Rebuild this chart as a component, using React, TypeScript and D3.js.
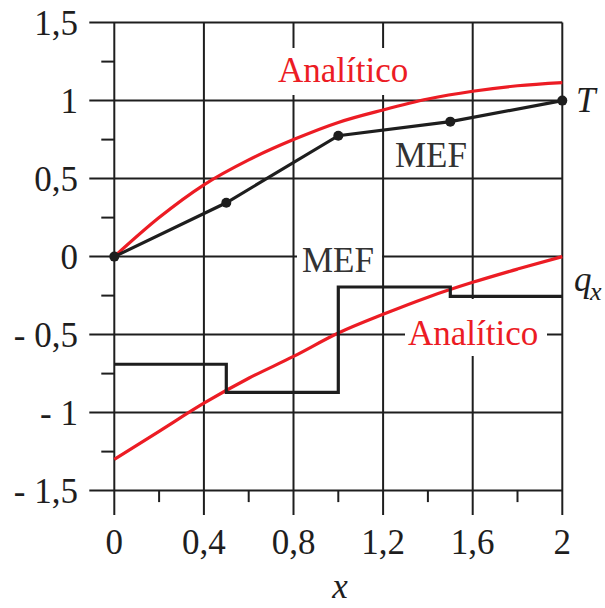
import React from "react";
import * as d3 from "d3";

// grid / ticks
const xMajor = [0, 0.4, 0.8, 1.2, 1.6, 2];
const xTickLabels = ["0", "0,4", "0,8", "1,2", "1,6", "2"];
const xMinor = [0.2, 0.6, 1.0, 1.4, 1.8];
const yMajor = [1.5, 1, 0.5, 0, -0.5, -1, -1.5];
const yTickLabels = ["1,5", "1", "0,5", "0", "- 0,5", "- 1", "- 1,5"];
const yMinor = [1.25, 0.75, 0.25, -0.25, -0.75, -1.25];

// analytic solution
const xAnalytic = [0, 0.2, 0.4, 0.6, 0.8, 1.0, 1.2, 1.4, 1.6, 1.8, 2.0];
const tAnalytic = [0, 0.25, 0.46, 0.62, 0.75, 0.86, 0.94, 1.01, 1.06, 1.095, 1.115];
const qAnalytic = [-1.3, -1.12, -0.94, -0.78, -0.64, -0.49, -0.37, -0.26, -0.165, -0.08, 0];

// finite elements
const xNodes = [0, 0.5, 1, 1.5, 2];
const tMef = [0, 0.345, 0.775, 0.865, 1.0];
const qMef = [-0.69, -0.87, -0.195, -0.255];

const W = 605, H = 608;
const red = "#ec1c24";
const ink = "#1e1e1e";
const font = "'Liberation Serif', 'DejaVu Serif', serif";

export default function App() {
  const x = d3.scaleLinear().domain([0, 2]).range([114.3, 562.3]);
  const y = d3.scaleLinear().domain([-1.5, 1.5]).range([490.6, 22.6]);

  const smooth = d3.line<[number, number]>()
    .x(d => x(d[0]))
    .y(d => y(d[1]))
    .curve(d3.curveMonotoneX);

  const straight = d3.line<[number, number]>()
    .x(d => x(d[0]))
    .y(d => y(d[1]));

  const step = d3.line<[number, number]>()
    .x(d => x(d[0]))
    .y(d => y(d[1]))
    .curve(d3.curveStepAfter);

  const tA = xAnalytic.map((v, i) => [v, tAnalytic[i]] as [number, number]);
  const qA = xAnalytic.map((v, i) => [v, qAnalytic[i]] as [number, number]);
  const tM = xNodes.map((v, i) => [v, tMef[i]] as [number, number]);
  const qM = xNodes.map((v, i) => [v, qMef[Math.min(i, qMef.length - 1)]] as [number, number]);

  const left = x(0) - 25;
  const bottom = y(-1.5) + 24.5;

  return (
    <svg width={W} height={H} style={{ position: "absolute", left: 0, top: 0, background: "#fff", fontFamily: font }}>
      {/* horizontal grid */}
      {yMajor.map(v => (
        <line key={"h" + v} x1={left} x2={x(2)} y1={y(v)} y2={y(v)} stroke={ink} strokeWidth={2} />
      ))}
      {yMinor.map(v => (
        <line key={"hm" + v} x1={x(0) - 13} x2={x(0)} y1={y(v)} y2={y(v)} stroke={ink} strokeWidth={2} />
      ))}
      {/* vertical grid */}
      {xMajor.map(v => (
        <line key={"v" + v} x1={x(v)} x2={x(v)} y1={y(1.5)} y2={bottom} stroke={ink} strokeWidth={2} />
      ))}
      {xMinor.map(v => (
        <line key={"vm" + v} x1={x(v)} x2={x(v)} y1={y(-1.5)} y2={y(-1.5) + 11.5} stroke={ink} strokeWidth={2} />
      ))}

      {/* label backgrounds breaking the grid */}
      <rect x={270} y={48} width={150} height={47} fill="#fff" />
      <rect x={297} y={240} width={85} height={36} fill="#fff" />
      <rect x={405} y={299} width={142} height={57} fill="#fff" />

      {/* tick labels */}
      {yMajor.map((v, i) => (
        <text key={"yl" + v} x={78} y={y(v) + 12} textAnchor="end" fontSize={35} fill={ink}>
          {yTickLabels[i]}
        </text>
      ))}
      {xMajor.map((v, i) => (
        <text key={"xl" + v} x={x(v)} y={554} textAnchor="middle" fontSize={35} fill={ink}>
          {xTickLabels[i]}
        </text>
      ))}
      <text x={340} y={598} textAnchor="middle" fontSize={35} fontStyle="italic" fill={ink}>x</text>

      {/* analytic curves */}
      <path d={smooth(tA) || ""} fill="none" stroke={red} strokeWidth={3.2} />
      <path d={smooth(qA) || ""} fill="none" stroke={red} strokeWidth={3.2} />

      {/* MEF */}
      <path d={step(qM) || ""} fill="none" stroke={ink} strokeWidth={3.2} />
      <path d={straight(tM) || ""} fill="none" stroke={ink} strokeWidth={3.2} />
      {tM.map(d => (
        <circle key={"p" + d[0]} cx={x(d[0])} cy={y(d[1])} r={5} fill={ink} />
      ))}

      {/* annotations */}
      <text x={278} y={82} fontSize={35} fill={red}>Analítico</text>
      <text x={408} y={345} fontSize={35} fill={red}>Analítico</text>
      <text x={395} y={167} fontSize={35} fill="#333">MEF</text>
      <text x={302} y={272} fontSize={35} fill="#333">MEF</text>
      <text x={576} y={112} fontSize={35} fontStyle="italic" fill={ink}>T</text>
      <text x={574} y={291} fontSize={35} fontStyle="italic" fill={ink}>q</text>
      <text x={590} y={300} fontSize={26} fontStyle="italic" fill={ink}>x</text>
    </svg>
  );
}
